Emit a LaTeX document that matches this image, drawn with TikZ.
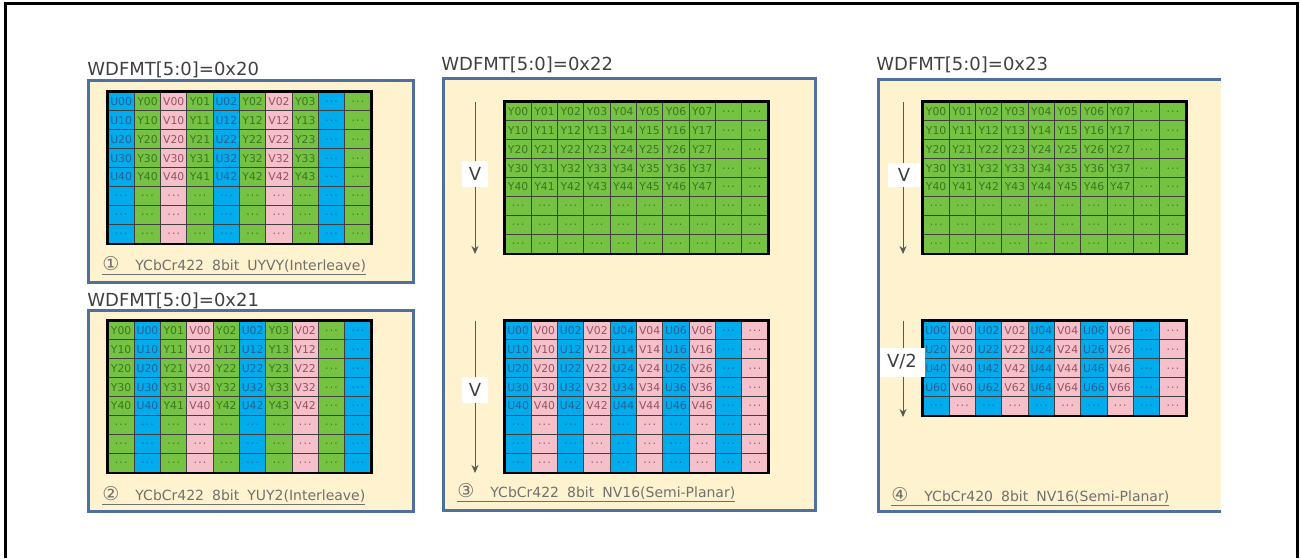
\documentclass[tikz,border=0pt]{standalone}
\usepackage{fontspec}
\setmainfont{DejaVu Sans}
\usetikzlibrary{arrows.meta}
\definecolor{ucell}{RGB}{0,172,236}
\definecolor{ycell}{RGB}{118,194,66}
\definecolor{vcell}{RGB}{246,192,202}
\definecolor{utext}{RGB}{38,96,150}
\definecolor{ytext}{RGB}{58,118,36}
\definecolor{vtext}{RGB}{150,82,96}
\definecolor{cream}{RGB}{255,242,206}
\definecolor{panelblue}{RGB}{78,112,158}
\definecolor{inkgray}{RGB}{64,64,64}
\definecolor{capgray}{RGB}{112,112,112}

\tikzset{
  cell/.style={draw=black!75, line width=0.5pt, inner sep=0pt,
    minimum width=13.15pt, minimum height=9.45pt,
    font=\fontsize{5.4}{5.4}\selectfont, text height=3.9pt, text depth=0pt},
  cellU/.style={fill=ucell, text=utext},
  cellY/.style={fill=ycell, text=ytext},
  cellV/.style={fill=vcell, text=vtext},
  gridframe/.style={draw=black, line width=1.2pt},
  panel/.style={fill=cream, draw=panelblue, line width=1.5pt},
  title/.style={anchor=base west, inner sep=0pt, text=inkgray, font=\fontsize{9}{10}\selectfont},
  caption/.style={anchor=base west, inner sep=0pt, text=capgray, font=\fontsize{7}{8}\selectfont},
  vline/.style={draw=black!65, line width=0.5pt, -{Stealth[length=4pt,width=3.5pt]}},
  vlabel/.style={fill=white, inner sep=0pt, text=inkgray, font=\fontsize{9}{10}\selectfont},
}

\newcommand{\dotz}{·\kern.6pt·\kern.6pt·}
\newcommand{\circnum}[1]{{\fontsize{9.5}{9.5}\selectfont #1}}
% name, x, y, rows, text rows, row step, columns
\newcommand{\pixgrid}[7]{%
  \foreach \ch/\cd [count=\c] in {#7} {
    \foreach \r in {1,...,#4} {
      \pgfmathtruncatemacro{\rd}{(\r-1)*#6}
      \ifnum\r>#5 \def\lbl{\dotz}\else
        \if\cd-\def\lbl{\dotz}\else\edef\lbl{\ch\rd\cd}\fi
      \fi
      \node[cell, cell\ch] (#1-\r-\c) at ({#2+(\c-0.5)*26.3}, {#3+(\r-0.5)*18.9}) {\lbl};
    }
  }
  \draw[gridframe] (#1-1-1.north west) rectangle (#1-#4-10.south east);
}

\begin{document}
\begin{tikzpicture}[x=0.5pt, y=-0.5pt]
  \useasboundingbox (0,0) rectangle (1300,558);
  \draw[line width=1.5pt] (5,558) -- (5,3) -- (1297,3) -- (1297,558);

  % 0x20 UYVY
  \node[title] (t1) at (87,75) {WDFMT[5:0]=0x20};
  \draw[panel] (88,80) rectangle (413,282);
  \pixgrid{ga}{108}{92}{8}{5}{1}{U/0,Y/0,V/0,Y/1,U/2,Y/2,V/2,Y/3,U/-,Y/-}
  \node[caption] (c1) at (102,270) {\underline{\circnum{①}\hspace{8pt}YCbCr422\hspace{4pt}8bit\hspace{4pt}UYVY(Interleave)}};

  % 0x21 YUY2
  \node[title] (t2) at (87,306) {WDFMT[5:0]=0x21};
  \draw[panel] (88,310) rectangle (413,511);
  \pixgrid{gb}{108}{321}{8}{5}{1}{Y/0,U/0,Y/1,V/0,Y/2,U/2,Y/3,V/2,Y/-,U/-}
  \node[caption] (c2) at (102,500) {\underline{\circnum{②}\hspace{8pt}YCbCr422\hspace{4pt}8bit\hspace{4pt}YUY2(Interleave)}};

  % 0x22 NV16
  \node[title] (t3) at (441,70) {WDFMT[5:0]=0x22};
  \draw[panel] (443,78) rectangle (815,510);
  \pixgrid{gc}{505}{102}{8}{5}{1}{Y/0,Y/1,Y/2,Y/3,Y/4,Y/5,Y/6,Y/7,Y/-,Y/-}
  \pixgrid{gd}{505}{321}{8}{5}{1}{U/0,V/0,U/2,V/2,U/4,V/4,U/6,V/6,U/-,V/-}
  \coordinate (p3a) at (475,102);
  \coordinate (q3a) at (475,254);
  \coordinate (p3b) at (475,321);
  \coordinate (q3b) at (475,473);
  \draw[vline] (p3a) -- (q3a);
  \draw[vline] (p3b) -- (q3b);
  \node[vlabel, minimum width=13pt, minimum height=13pt] (v3a) at (475,174) {V};
  \node[vlabel, minimum width=13pt, minimum height=13pt] (v3b) at (475,390) {V};
  \node[caption] (c3) at (457,497) {\underline{\circnum{③}\hspace{8pt}YCbCr422\hspace{4pt}8bit\hspace{4pt}NV16(Semi-Planar)}};

  % 0x23 NV12
  \node[title] (t4) at (876,70) {WDFMT[5:0]=0x23};
  \fill[cream] (878,79) rectangle (1221,511);
  \draw[panel, fill=none] (1221,79) -- (878,79) -- (878,511) -- (1221,511);
  \pixgrid{ge}{923}{102}{8}{5}{1}{Y/0,Y/1,Y/2,Y/3,Y/4,Y/5,Y/6,Y/7,Y/-,Y/-}
  \pixgrid{gf}{923}{321}{5}{4}{2}{U/0,V/0,U/2,V/2,U/4,V/4,U/6,V/6,U/-,V/-}
  \coordinate (p4a) at (903,102);
  \coordinate (q4a) at (903,254);
  \coordinate (p4b) at (903,321);
  \coordinate (q4b) at (903,417);
  \draw[vline] (p4a) -- (q4a);
  \draw[vline] (p4b) -- (q4b);
  \node[vlabel, minimum width=16pt, minimum height=12pt] (v4a) at (904,175) {V};
  \node[vlabel, minimum width=22.5pt, minimum height=14.5pt] (v4b) at (902,362) {V/2};
  \node[caption] (c4) at (891,501) {\underline{\circnum{④}\hspace{8pt}YCbCr420\hspace{4pt}8bit\hspace{4pt}NV16(Semi-Planar)}};
\end{tikzpicture}
\end{document}
